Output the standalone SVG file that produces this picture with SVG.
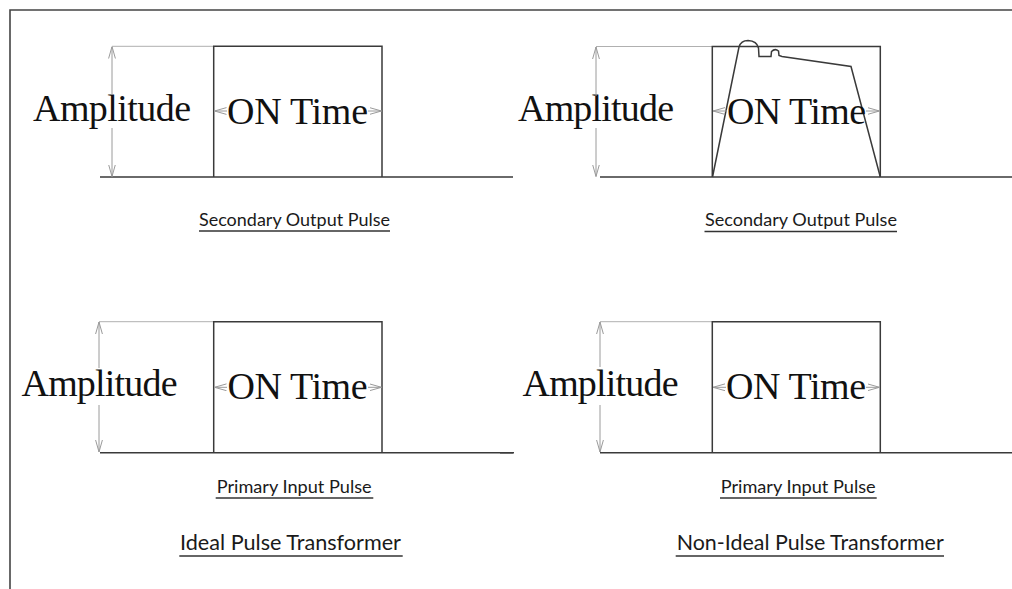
<svg xmlns="http://www.w3.org/2000/svg" width="1012" height="589" viewBox="0 0 1012 589">
<style>
.frame{fill:none;stroke:#444;stroke-width:1.6}
.wave{fill:none;stroke:#3a3a3a;stroke-width:1.5;stroke-linejoin:miter}
.ext{fill:none;stroke:#b0b0b0;stroke-width:1}
.dim{fill:none;stroke:#9a9a9a;stroke-width:1;marker-end:url(#arr)}
.big{font-family:"Liberation Serif","Times New Roman",serif;font-size:38px;fill:#111}
.lab{font-family:Lato,"Open Sans",sans-serif;font-size:17.5px;fill:#1a1a1a}
.ttl{font-family:Lato,"Open Sans",sans-serif;font-size:21.5px;fill:#1a1a1a}
.ul{stroke:#333;stroke-width:1.3}
</style>
<defs>
<marker id="arr" viewBox="0 0 12 8" refX="12" refY="4" markerWidth="12" markerHeight="8" markerUnits="userSpaceOnUse" orient="auto">
<path d="M0,0.6 L12,4 L0,7.4" fill="none" stroke="#9a9a9a" stroke-width="1"/>
</marker>
</defs>
<rect width="1012" height="589" fill="#fff"/>
<path class="frame" d="M10,589 V10 H1012"/>

<g id="ideal-secondary">
<line class="ext" x1="112" y1="46.3" x2="213.7" y2="46.3"/>
<path class="wave" d="M100,177 H513 M213.7,177 V46.3 H382 V177"/>
<text class="big" x="33" y="120.5" textLength="158">Amplitude</text>
<text class="big" x="227" y="124" textLength="141">ON Time</text>
<text class="lab" x="199" y="226" textLength="191" lengthAdjust="spacingAndGlyphs">Secondary Output Pulse</text>
<line class="ul" x1="199" y1="231" x2="390" y2="231"/>
</g>

<g id="nonideal-secondary">
<line class="ext" x1="596" y1="46.5" x2="712.3" y2="46.5"/>
<path class="wave" d="M600,177 H1012 M712.3,177 V46.5 H880.3 V177"/>
<path class="wave" d="M712.5,177 L739,47 Q741,40.5 748,40.5 Q757,41 758.5,48 L759,56.5 L771,56.5 L771.5,51.5 Q775,48 778.5,51 L779,55.5 L782,56.5 L851,66.5 L880.3,177"/>
<text class="big" x="518" y="120.5" textLength="156">Amplitude</text>
<text class="big" x="727" y="124" textLength="139">ON Time</text>
<text class="lab" x="705" y="226" textLength="192" lengthAdjust="spacingAndGlyphs">Secondary Output Pulse</text>
<line class="ul" x1="704.5" y1="231.5" x2="897" y2="231.5"/>
</g>

<g id="ideal-primary">
<line class="ext" x1="99" y1="321.7" x2="213.7" y2="321.7"/>
<path class="wave" d="M100,452.7 H514 M213.7,452.7 V321.7 H382 V452.7"/>
<text class="big" x="21.5" y="396" textLength="156">Amplitude</text>
<text class="big" x="227.5" y="399.3" textLength="140">ON Time</text>
<text class="lab" x="216.7" y="492.5" textLength="155" lengthAdjust="spacingAndGlyphs">Primary Input Pulse</text>
<line class="ul" x1="215.7" y1="498" x2="373.3" y2="498"/>
<text class="ttl" x="180" y="550" textLength="221" lengthAdjust="spacingAndGlyphs">Ideal Pulse Transformer</text>
<line class="ul" x1="179.3" y1="556" x2="402.7" y2="556"/>
</g>

<g id="nonideal-primary">
<line class="ext" x1="600" y1="321.7" x2="712.3" y2="321.7"/>
<path class="wave" d="M500,452.7 H513 M600,452.7 H1012 M712.3,452.7 V321.7 H880.3 V452.7"/>
<text class="big" x="522.5" y="396" textLength="156">Amplitude</text>
<text class="big" x="726" y="399.3" textLength="140">ON Time</text>
<text class="lab" x="720.7" y="492.5" textLength="155" lengthAdjust="spacingAndGlyphs">Primary Input Pulse</text>
<line class="ul" x1="720" y1="498" x2="876.7" y2="498"/>
<text class="ttl" x="676.7" y="550" textLength="267" lengthAdjust="spacingAndGlyphs">Non-Ideal Pulse Transformer</text>
<line class="ul" x1="675.7" y1="556" x2="944" y2="556"/>
</g>

<g id="connectors">
<path class="dim" d="M112,95 V46.5"/>
<path class="dim" d="M112,128 V176.5"/>
<path class="dim" d="M227,111 H214.5"/>
<path class="dim" d="M368,111 H381.5"/>

<path class="dim" d="M596,96 V47"/>
<path class="dim" d="M596,128 V176.5"/>
<path class="dim" d="M727,111 H713"/>
<path class="dim" d="M866,111 H879.5"/>

<path class="dim" d="M99,368 V322"/>
<path class="dim" d="M99,405 V452"/>
<path class="dim" d="M227,387.3 H214.5"/>
<path class="dim" d="M368,387.3 H381.5"/>

<path class="dim" d="M600,367 V322"/>
<path class="dim" d="M600,405 V452"/>
<path class="dim" d="M726,387.3 H713"/>
<path class="dim" d="M866,387.3 H879.5"/>
</g>
</svg>
